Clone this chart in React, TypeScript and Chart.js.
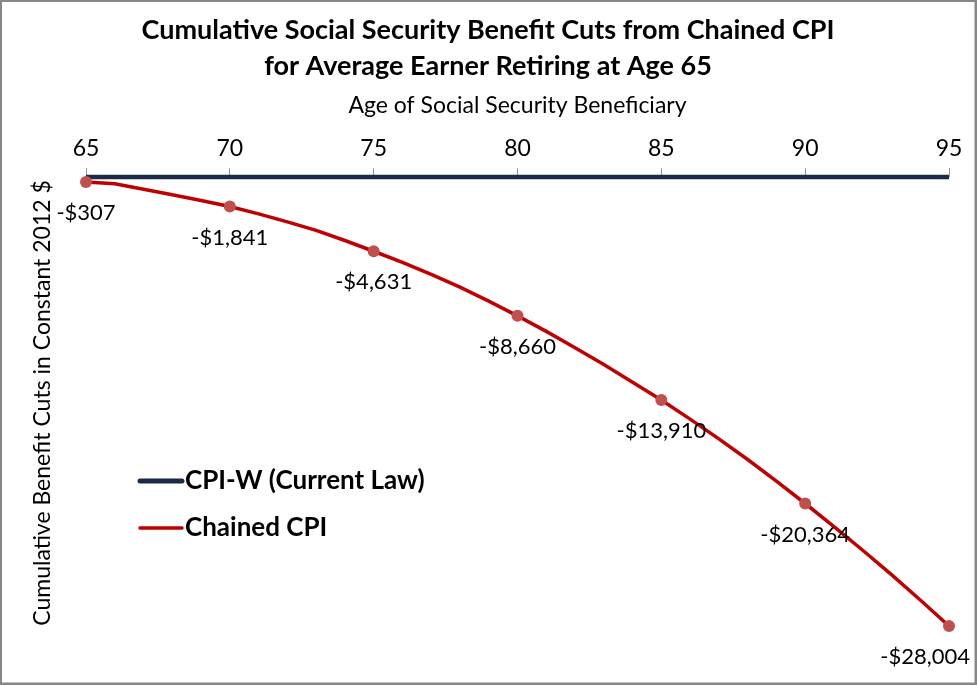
import React, { useEffect, useRef } from "react";
import { Chart, registerables } from "chart.js";

Chart.register(...registerables);

const titleLines = [
  "Cumulative Social Security Benefit Cuts from Chained CPI",
  "for Average Earner Retiring at Age 65",
];
const xAxisTitle = "Age of Social Security Beneficiary";
const yAxisTitle = "Cumulative Benefit Cuts in Constant 2012 $";
const seriesNames = ["CPI-W (Current Law)", "Chained CPI"];

const ages = [65, 66, 67, 68, 69, 70, 71, 72, 73, 74, 75, 76, 77, 78, 79, 80, 81, 82, 83, 84, 85, 86, 87, 88, 89, 90, 91, 92, 93, 94, 95];
const cpiW = [0, 0, 0, 0, 0, 0, 0, 0, 0, 0, 0, 0, 0, 0, 0, 0, 0, 0, 0, 0, 0, 0, 0, 0, 0, 0, 0, 0, 0, 0, 0];
const chained = [
  -307, -420, -760, -1110, -1470, -1841,
  -2300, -2800, -3330, -3960, -4631,
  -5330, -6080, -6870, -7740, -8660,
  -9630, -10650, -11700, -12800, -13910,
  -15100, -16330, -17620, -18970, -20364,
  -21800, -23280, -24800, -26380, -28004,
];
const labeledAges = [65, 70, 75, 80, 85, 90, 95];

const NAVY = "#1B2A47";
const RED = "#C00000";
const MARKER = "#C0504D";
const FONT = "Lato, 'Open Sans', sans-serif";

const fmt = (v: number) => (v < 0 ? "-$" : "$") + Math.abs(v).toLocaleString("en-US");

const decorPlugin = {
  id: "decor",
  beforeDraw(chart: any) {
    const { ctx, width, height } = chart;
    ctx.save();
    ctx.fillStyle = "#ffffff";
    ctx.fillRect(0, 0, width, height);
    ctx.restore();
  },
  afterDraw(chart: any) {
    const { ctx, width, height } = chart;
    ctx.save();
    // border
    ctx.strokeStyle = "#878787";
    ctx.lineWidth = 3;
    ctx.strokeRect(0.5, 0.5, width - 1.5, height - 1.5);
    // title
    ctx.fillStyle = "#000";
    ctx.font = `bold 27px ${FONT}`;
    ctx.textAlign = "center";
    ctx.textBaseline = "middle";
    ctx.fillText(titleLines[0], 488, 30);
    ctx.fillText(titleLines[1], 488, 66);
    // y axis title
    ctx.save();
    ctx.translate(43, 403);
    ctx.rotate(-Math.PI / 2);
    ctx.font = `23px ${FONT}`;
    ctx.fillText(yAxisTitle, 0, 0);
    ctx.restore();
    // data labels
    const meta = chart.getDatasetMeta(1);
    ctx.font = `22px ${FONT}`;
    meta.data.forEach((pt: any, i: number) => {
      if (!labeledAges.includes(ages[i])) return;
      const txt = fmt(chained[i]);
      const w = ctx.measureText(txt).width;
      let cx = pt.x;
      if (cx + w / 2 > width - 7) cx = width - 7 - w / 2;
      ctx.fillText(txt, cx, pt.y + 31);
    });
    // legend
    const items = [
      { name: seriesNames[0], color: NAVY, lw: 5, y: 481 },
      { name: seriesNames[1], color: RED, lw: 3.5, y: 528 },
    ];
    items.forEach((it) => {
      ctx.strokeStyle = it.color;
      ctx.lineWidth = it.lw;
      ctx.lineCap = "round";
      ctx.beginPath();
      ctx.moveTo(140, it.y);
      ctx.lineTo(182, it.y);
      ctx.stroke();
      ctx.fillStyle = "#000";
      ctx.font = `bold 26px ${FONT}`;
      ctx.textAlign = "left";
      ctx.fillText(it.name, 185, it.y);
    });
    ctx.restore();
  },
};

export default function App() {
  const ref = useRef<HTMLCanvasElement>(null);
  useEffect(() => {
    if (!ref.current) return;
    Chart.defaults.font.family = FONT;
    const chart = new Chart(ref.current, {
      type: "line",
      data: {
        labels: ages,
        datasets: [
          {
            label: seriesNames[0],
            data: ages.map((a, i) => ({ x: a, y: cpiW[i] })),
            borderColor: NAVY,
            borderWidth: 4.5,
            pointRadius: 0,
            tension: 0,
            clip: false,
            order: 1,
          },
          {
            label: seriesNames[1],
            data: ages.map((a, i) => ({ x: a, y: chained[i] })),
            borderColor: RED,
            borderWidth: 3.5,
            pointRadius: (c: any) => (labeledAges.includes(ages[c.dataIndex]) ? 6 : 0),
            pointBackgroundColor: MARKER,
            pointBorderColor: MARKER,
            pointBorderWidth: 0,
            tension: 0,
            clip: false,
            order: 0,
          },
        ],
      },
      options: {
        responsive: false,
        animation: false,
        devicePixelRatio: 1,
        layout: { padding: { top: 88, left: 0, right: 28, bottom: 27 } },
        plugins: {
          legend: { display: false },
          title: { display: false },
          tooltip: { enabled: false },
        },
        scales: {
          x: {
            type: "linear",
            position: "top",
            min: 65,
            max: 95,
            afterFit: (s: any) => {
              s.height = 89;
            },
            ticks: {
              stepSize: 5,
              color: "#000",
              font: { size: 23 },
              padding: 6,
              maxRotation: 0,
            },
            grid: {
              drawOnChartArea: false,
              drawTicks: true,
              tickLength: 9,
              color: "#9a9a9a",
            },
            border: { display: false },
            title: {
              display: true,
              text: xAxisTitle,
              color: "#000",
              font: { size: 23 },
              padding: { top: 4, bottom: 0 },
            },
          },
          y: {
            type: "linear",
            min: -30000,
            max: 0,
            afterFit: (s: any) => {
              s.width = 86;
            },
            ticks: { display: false },
            grid: { display: false },
            border: { display: false },
            title: { display: false },
          },
        },
      },
      plugins: [decorPlugin],
    } as any);
    return () => chart.destroy();
  }, []);
  return (
    <div style={{ position: "absolute", left: 0, top: 0, width: 977, height: 685 }}>
      <canvas ref={ref} width={977} height={685} style={{ width: 977, height: 685, display: "block" }} />
    </div>
  );
}
